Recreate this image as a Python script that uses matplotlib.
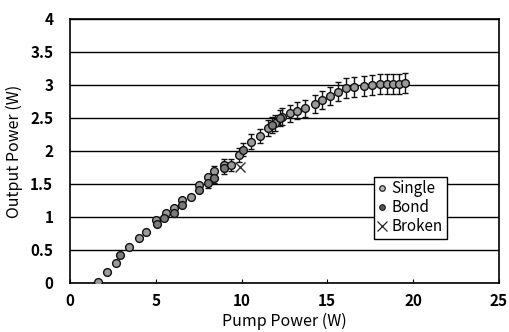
import matplotlib
matplotlib.use("Agg")
import matplotlib.pyplot as plt
from matplotlib.lines import Line2D

plt.rcParams['font.family'] = ['Noto Sans CJK JP', 'DejaVu Sans']

# Single series (with error bars at higher powers)
single_x = [1.62, 2.17, 2.71, 3.43, 4.01, 4.46, 5.04, 5.57, 6.05, 6.54, 7.08, 7.55,
            8.05, 8.42, 8.96, 9.39, 9.88, 10.58, 11.06, 11.55, 11.98, 12.37, 12.85,
            13.24, 13.72, 14.31, 14.69, 15.18, 15.61, 16.11, 16.58, 17.12, 17.61,
            18.05, 18.48, 18.83, 19.20, 19.55]
single_y = [0.02, 0.16, 0.31, 0.55, 0.68, 0.78, 0.95, 1.06, 1.13, 1.26, 1.31, 1.48,
            1.61, 1.69, 1.79, 1.79, 1.94, 2.14, 2.23, 2.35, 2.42, 2.52, 2.57,
            2.61, 2.65, 2.71, 2.77, 2.83, 2.90, 2.96, 2.97, 2.99, 3.00,
            3.01, 3.02, 3.02, 3.02, 3.03]
single_err = [0, 0, 0, 0, 0, 0, 0, 0, 0, 0, 0, 0,
              0, 0.08, 0.09, 0.09, 0.10, 0.11, 0.11, 0.12, 0.12, 0.13, 0.13,
              0.13, 0.13, 0.14, 0.14, 0.14, 0.15, 0.15, 0.15, 0.15, 0.15,
              0.15, 0.15, 0.15, 0.15, 0.15]

# Bond series
bond_x = [2.94, 5.10, 5.50, 6.05, 6.54, 7.55, 8.05, 8.42, 8.96, 10.09, 11.80, 12.27]
bond_y = [0.43, 0.90, 0.98, 1.06, 1.18, 1.41, 1.51, 1.59, 1.74, 2.02, 2.40, 2.50]
bond_err = [0, 0, 0, 0, 0, 0, 0.07, 0.08, 0.09, 0.10, 0.12, 0.12]

# Broken
broken_x = [9.94]
broken_y = [1.76]

x_ticks = [0, 5, 10, 15, 20, 25]
y_ticks = [0, 0.5, 1, 1.5, 2, 2.5, 3, 3.5, 4]
y_labels = ['0', '0.5', '1', '1.5', '2', '2.5', '3', '3.5', '4']

fig = plt.figure(figsize=(5.09, 3.32), dpi=100)
ax = fig.add_axes([0.1375, 0.1476, 0.8425, 0.7952])

ax.errorbar(single_x, single_y, yerr=single_err, fmt='o', ms=5.6, mfc='#9a9a9a',
            mec='#111111', mew=1.0, ecolor='#111111', elinewidth=1.0, capsize=2.5,
            capthick=1.0, zorder=3)
ax.errorbar(bond_x, bond_y, yerr=bond_err, fmt='o', ms=5.6, mfc='#7a7a7a',
            mec='#111111', mew=1.0, ecolor='#111111', elinewidth=1.0, capsize=2.5,
            capthick=1.0, zorder=3)
ax.plot(broken_x, broken_y, 'x', ms=7, mec='#333333', mew=1.0, zorder=3)

ax.set_xlim(0, 25)
ax.set_ylim(0, 4)
ax.set_xticks(x_ticks)
ax.set_yticks(y_ticks)
ax.set_yticklabels(y_labels)
for lab in ax.get_xticklabels() + ax.get_yticklabels():
    lab.set_fontweight('bold')
    lab.set_fontsize(11)
ax.tick_params(axis='x', direction='in', length=3, width=0.8, pad=7)
ax.tick_params(axis='y', direction='out', length=0, width=0.8, pad=12)
ax.yaxis.grid(True, color='black', linewidth=1.0)
ax.set_axisbelow(True)
for s in ax.spines.values():
    s.set_linewidth(1.2)
    s.set_color('black')

ax.set_xlabel('Pump Power (W)', fontsize=11.5, labelpad=3)
ax.set_ylabel('Output Power (W)', fontsize=11.5, labelpad=5)

handles = [
    Line2D([], [], ls='none', marker='o', ms=4, mfc='#bbbbbb', mec='#222222', mew=0.9),
    Line2D([], [], ls='none', marker='o', ms=4, mfc='#555555', mec='#222222', mew=0.9),
    Line2D([], [], ls='none', marker='x', ms=7, mec='#222222', mew=0.9),
]
labels = ['Single', 'Bond', 'Broken']
leg = ax.legend(handles, labels, loc='upper left', bbox_to_anchor=(0.709, 0.403),
                borderaxespad=0, fontsize=11, frameon=True, fancybox=False,
                edgecolor='black', framealpha=1, handlelength=0.6,
                handletextpad=0.3, borderpad=0.25, labelspacing=0.12)
leg.get_frame().set_linewidth(1.0)

fig.savefig('out.png', dpi=100)
